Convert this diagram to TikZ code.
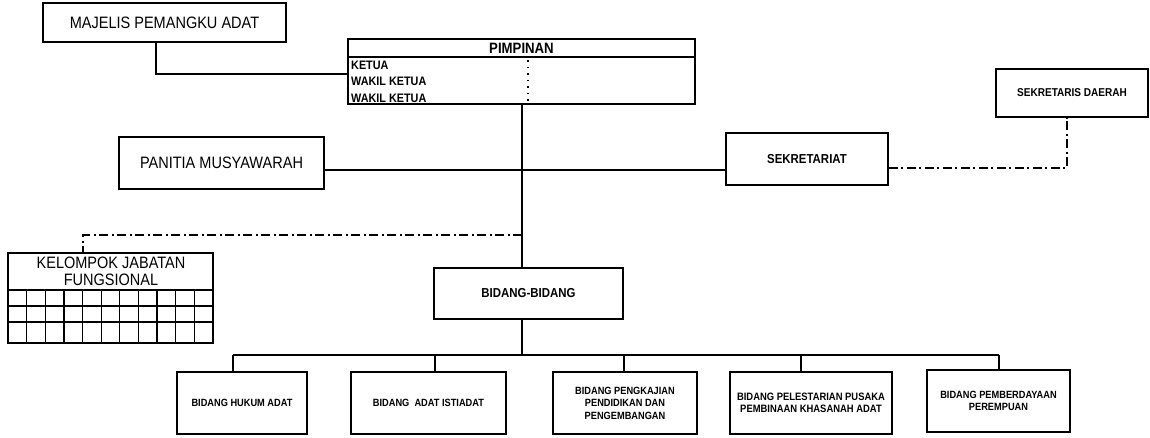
\documentclass[tikz,border=0pt]{standalone}
\usepackage{fontspec}
\setmainfont{Liberation Sans}
\newfontfamily\narrowfont[FakeStretch=0.88]{Liberation Sans}
\begin{document}
\begin{tikzpicture}[x=1pt,y=-1pt,
  box/.style={draw,line width=1.3pt,inner sep=0pt,align=center,font=\narrowfont\bfseries\fontsize{10.5}{12.5}\selectfont},
  bigtxt/.style={font=\narrowfont\fontsize{16.5}{17}\selectfont},
  midtxt/.style={font=\narrowfont\bfseries\fontsize{13}{14}\selectfont},
  conn/.style={line width=1.3pt},
  dd/.style={line width=1.3pt,dash pattern=on 9pt off 3.5pt on 2pt off 3.5pt},
  rowtxt/.style={anchor=west,inner sep=0pt,font=\narrowfont\bfseries\fontsize{12.3}{13}\selectfont}]
\useasboundingbox (0,0) rectangle (1150,437);
% top boxes
\node[box,bigtxt,minimum width=243,minimum height=39] (maj) at (164.5,22.5) {MAJELIS PEMANGKU ADAT};
\node[box,minimum width=347,minimum height=65] (pim) at (521.5,71.5) {};
\draw[line width=1.3pt] (348,57) -- (695,57);
\node[font=\narrowfont\bfseries\fontsize{15}{16}\selectfont,inner sep=0pt] (pimt) at (521.5,48) {PIMPINAN};
\node[rowtxt] (k1) at (351,65) {KETUA};
\node[rowtxt] (k2) at (351,81.5) {WAKIL KETUA};
\node[rowtxt] (k3) at (351,98) {WAKIL KETUA};
\draw[line width=1.4pt,dash pattern=on 1.5pt off 5pt] (528,60) -- (528,104);
\node[box,bigtxt,minimum width=205,minimum height=52] (pan) at (221.5,163) {PANITIA MUSYAWARAH};
\node[box,midtxt,minimum width=162,minimum height=52] (sek) at (807,159) {SEKRETARIAT};
\node[box,font=\narrowfont\bfseries\fontsize{11.4}{12}\selectfont,minimum width=152,minimum height=48] (sd) at (1072,93) {SEKRETARIS DAERAH};
% kelompok
\node[box,minimum width=205,minimum height=90] (kel) at (110.5,298) {};
\node[bigtxt,inner sep=0pt,align=center] (kelt) at (111,271.5) {KELOMPOK JABATAN\\FUNGSIONAL};
\draw[line width=1.3pt] (8,290) -- (213,290) (8,306) -- (213,306) (8,322) -- (213,322);
\foreach \i in {1,...,10} {\draw[line width=1.3pt] ({8+\i*18.636},290) -- ({8+\i*18.636},343);}
% bidang
\node[box,midtxt,minimum width=189,minimum height=51] (bb) at (528.5,293.5) {BIDANG-BIDANG};
\node[box,minimum width=130,minimum height=62] (b1) at (242,403) {BIDANG HUKUM ADAT};
\node[box,minimum width=155,minimum height=62] (b2) at (428.5,403) {BIDANG\ \ ADAT ISTIADAT};
\node[box,minimum width=144,minimum height=62] (b3) at (625,403) {BIDANG PENGKAJIAN\\PENDIDIKAN DAN\\PENGEMBANGAN};
\node[box,font=\narrowfont\bfseries\fontsize{10.7}{12.5}\selectfont,minimum width=162,minimum height=62] (b4) at (811,403) {BIDANG PELESTARIAN PUSAKA\\PEMBINAAN KHASANAH ADAT};
\node[box,font=\narrowfont\bfseries\fontsize{10.5}{12}\selectfont,minimum width=143,minimum height=62] (b5) at (998.5,401) {BIDANG PEMBERDAYAAN\\PEREMPUAN};
% coordinates
\coordinate (mj) at (156,74);
\coordinate (tr) at (522,0);
\coordinate (hl) at (522,170);
\coordinate (sdc) at (1067,168);
\coordinate (kc) at (83,235);
\coordinate (bus) at (522,355);
\coordinate (d1) at (233,355);
\coordinate (d2) at (435,355);
\coordinate (d3) at (624,355);
\coordinate (d4) at (801,355);
\coordinate (d5) at (999,355);
% connectors
\draw[conn] (maj.south -| mj) |- (pim.west |- mj);
\draw[conn] (pim.south -| tr) -- (bb.north -| tr);
\draw[conn] (bb.south -| tr) -- (bus);
\draw[conn] (pan.east |- hl) -- (sek.west |- hl);
\draw[dd] (sek.east |- sdc) -| (sd.south -| sdc);
\draw[dd] (tr |- kc) -| (kel.north -| kc);
\draw[conn] (d1) -- (d5);
\draw[conn] (d1) -- (b1.north -| d1);
\draw[conn] (d2) -- (b2.north -| d2);
\draw[conn] (d3) -- (b3.north -| d3);
\draw[conn] (d4) -- (b4.north -| d4);
\draw[conn] (d5) -- (b5.north -| d5);
\end{tikzpicture}
\end{document}
